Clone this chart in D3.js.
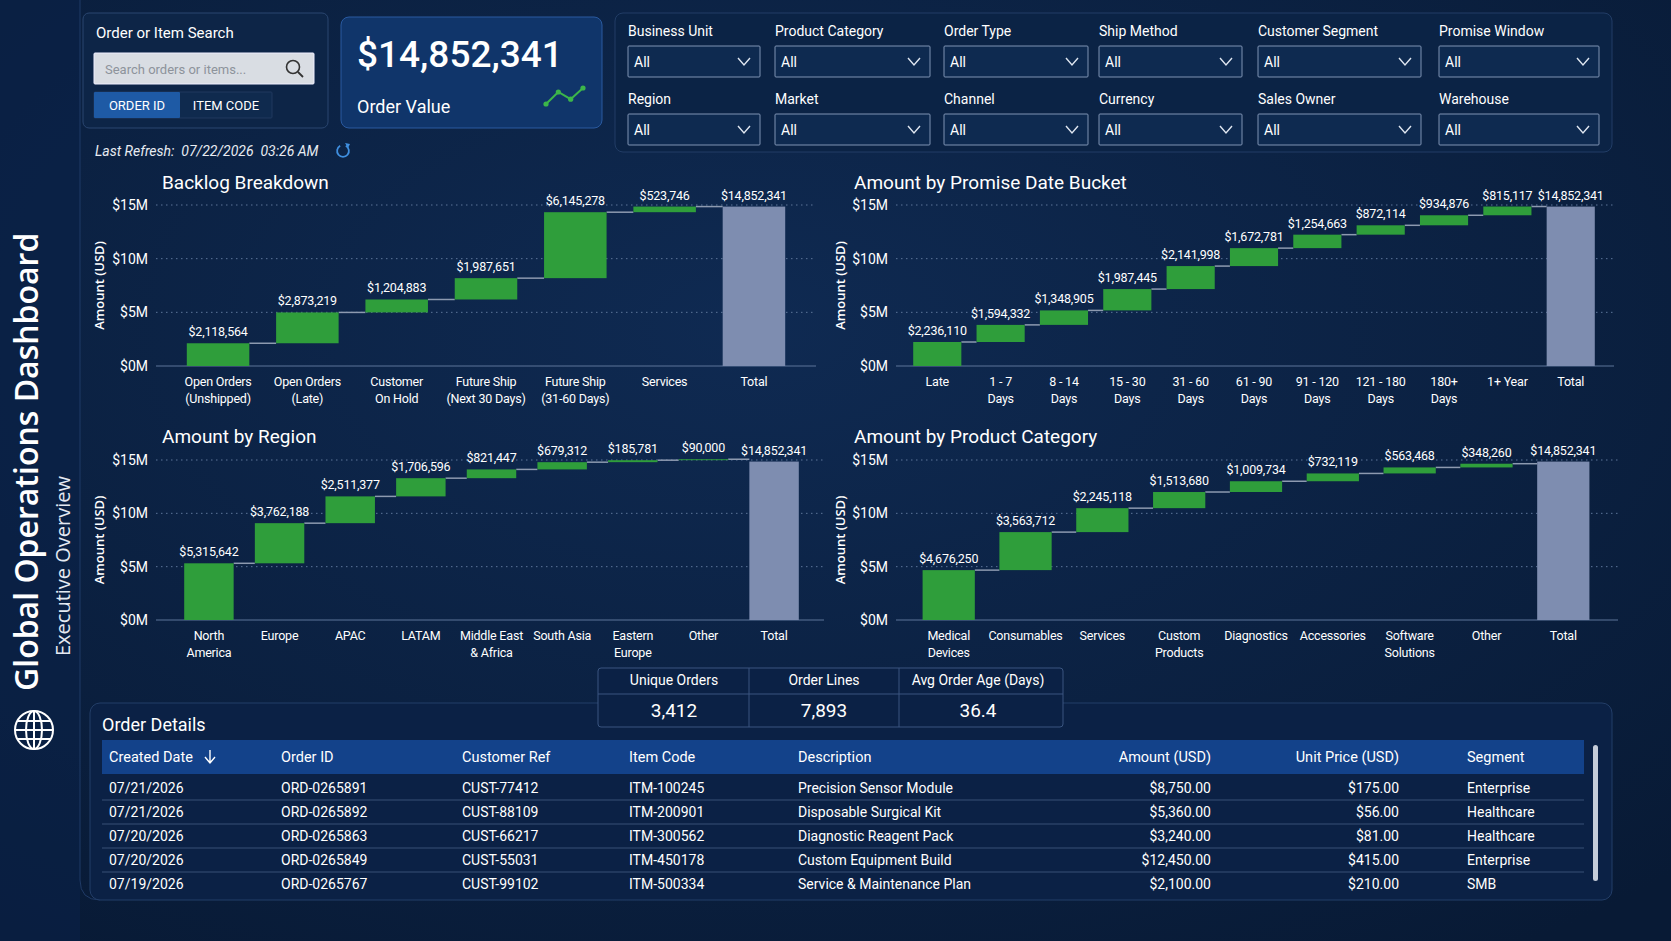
<!DOCTYPE html>
<html><head><meta charset="utf-8">
<script src="https://cdn.jsdelivr.net/npm/d3@7"></script>
<style>
body{margin:0;background:#0a1c38;overflow:hidden}
text{font-family:"Roboto","DejaVu Sans Condensed",sans-serif}
</style></head><body>
<script>
// data
var total = 14852341;
var backlogCats = ["Open Orders|(Unshipped)", "Open Orders|(Late)", "Customer|On Hold", "Future Ship|(Next 30 Days)", "Future Ship|(31-60 Days)", "Services"];
var backlogVals = [2118564, 2873219, 1204883, 1987651, 6145278, 523746];
var promiseCats = ["Late", "1 - 7|Days", "8 - 14|Days", "15 - 30|Days", "31 - 60|Days", "61 - 90|Days", "91 - 120|Days", "121 - 180|Days", "180+|Days", "1+ Year"];
var promiseVals = [2236110, 1594332, 1348905, 1987445, 2141998, 1672781, 1254663, 872114, 934876, 815117];
var regionCats = ["North|America", "Europe", "APAC", "LATAM", "Middle East|& Africa", "South Asia", "Eastern|Europe", "Other"];
var regionVals = [5315642, 3762188, 2511377, 1706596, 821447, 679312, 185781, 90000];
var productCats = ["Medical|Devices", "Consumables", "Services", "Custom|Products", "Diagnostics", "Accessories", "Software|Solutions", "Other"];
var productVals = [4676250, 3563712, 2245118, 1513680, 1009734, 732119, 563468, 348260];
var yTicks = [0, 5e6, 10e6, 15e6];

var filterRow1 = ["Business Unit", "Product Category", "Order Type", "Ship Method", "Customer Segment", "Promise Window"];
var filterRow2 = ["Region", "Market", "Channel", "Currency", "Sales Owner", "Warehouse"];

var kpiHeads = ["Unique Orders", "Order Lines", "Avg Order Age (Days)"];
var kpiVals = ["3,412", "7,893", "36.4"];

var tableHeads = ["Created Date", "Order ID", "Customer Ref", "Item Code", "Description", "Amount (USD)", "Unit Price (USD)", "Segment"];
var tableRows = [
  ["07/21/2026", "ORD-0265891", "CUST-77412", "ITM-100245", "Precision Sensor Module", "$8,750.00", "$175.00", "Enterprise"],
  ["07/21/2026", "ORD-0265892", "CUST-88109", "ITM-200901", "Disposable Surgical Kit", "$5,360.00", "$56.00", "Healthcare"],
  ["07/20/2026", "ORD-0265863", "CUST-66217", "ITM-300562", "Diagnostic Reagent Pack", "$3,240.00", "$81.00", "Healthcare"],
  ["07/20/2026", "ORD-0265849", "CUST-55031", "ITM-450178", "Custom Equipment Build", "$12,450.00", "$415.00", "Enterprise"],
  ["07/19/2026", "ORD-0265767", "CUST-99102", "ITM-500334", "Service & Maintenance Plan", "$2,100.00", "$210.00", "SMB"]
];

var W = 1671, H = 941;
var svg = d3.select("body").append("svg").attr("width", W).attr("height", H);
var defs = svg.append("defs");
var bg = defs.append("radialGradient").attr("id", "bg").attr("cx", "45%").attr("cy", "35%").attr("r", "80%");
bg.append("stop").attr("offset", "0%").attr("stop-color", "#0f2a52");
bg.append("stop").attr("offset", "100%").attr("stop-color", "#081a35");
svg.append("rect").attr("width", W).attr("height", H).attr("fill", "url(#bg)");

var fmt = d3.format("$,");

// sidebar
svg.append("rect").attr("width", 80).attr("height", H).attr("fill", "#0a2248").attr("opacity", 0.6);
svg.append("path").attr("d", "M80,0 V880 Q80,900 100,900").attr("fill", "none").attr("stroke", "#1f3a66");
svg.append("text").attr("transform", "translate(38,691) rotate(-90)").attr("fill", "#fff")
  .attr("font-size", 32).attr("font-weight", 600).style("font-family", "'Open Sans',sans-serif").text("Global Operations Dashboard");
svg.append("text").attr("transform", "translate(70,656) rotate(-90)").attr("fill", "#e4e9f2")
  .attr("font-size", 20).style("font-family", "'Open Sans',sans-serif").text("Executive Overview");
var globe = svg.append("g").attr("transform", "translate(34,730)").attr("fill", "none").attr("stroke", "#fff").attr("stroke-width", 2);
globe.append("circle").attr("r", 19);
globe.append("ellipse").attr("rx", 8).attr("ry", 19);
globe.append("line").attr("y1", -19).attr("y2", 19);
[-9, 0, 9].forEach(function (y) {
  var hw = Math.sqrt(19 * 19 - y * y);
  globe.append("line").attr("x1", -hw).attr("x2", hw).attr("y1", y).attr("y2", y);
});

function card(x, y, w, h, fill, stroke, r) {
  return svg.append("rect").attr("x", x).attr("y", y).attr("width", w).attr("height", h)
    .attr("rx", r || 6).attr("fill", fill).attr("stroke", stroke);
}

// search card
card(83, 13, 245, 115, "#0d2547", "#2a4670");
svg.append("text").attr("x", 96).attr("y", 38).attr("fill", "#fff").attr("font-size", 15).text("Order or Item Search");
card(94, 53, 220, 31, "#d9dde3", "#eef", 1);
svg.append("text").attr("x", 105).attr("y", 74).attr("fill", "#8d939b").attr("font-size", 13).text("Search orders or items...");
svg.append("circle").attr("cx", 293).attr("cy", 67).attr("r", 6.5).attr("fill", "none").attr("stroke", "#333").attr("stroke-width", 1.6);
svg.append("line").attr("x1", 298).attr("y1", 72).attr("x2", 303).attr("y2", 77).attr("stroke", "#333").attr("stroke-width", 1.8);
card(94, 92, 178, 26, "#0f2a4e", "#20385e", 1);
card(94, 92, 86, 26, "#1e5aa5", "none", 1);
svg.append("text").attr("x", 137).attr("y", 110).attr("text-anchor", "middle").attr("fill", "#fff").attr("font-size", 13).text("ORDER ID");
svg.append("text").attr("x", 226).attr("y", 110).attr("text-anchor", "middle").attr("fill", "#fff").attr("font-size", 13).text("ITEM CODE");

// KPI card
card(341, 17, 261, 111, "#10356a", "#2a5aa0", 8);
svg.append("text").attr("x", 357).attr("y", 67).attr("fill", "#fff").attr("font-size", 37).attr("font-weight", 500).text("$14,852,341");
svg.append("text").attr("x", 357).attr("y", 113).attr("fill", "#fff").attr("font-size", 18).text("Order Value");
var spark = [[0, 0], [1, -1.5], [2, -0.6], [3, -2]];
var sx = d3.scaleLinear().domain([0, 3]).range([546, 583]);
var sy = d3.scaleLinear().domain([0, -2]).range([104, 88]);
svg.append("path").attr("d", d3.line().x(d => sx(d[0])).y(d => sy(d[1]))(spark)).attr("fill", "none").attr("stroke", "#3cb64a").attr("stroke-width", 2);
svg.selectAll(".sp").data(spark).enter().append("circle").attr("cx", d => sx(d[0])).attr("cy", d => sy(d[1])).attr("r", 2.6).attr("fill", "#3cb64a");

svg.append("text").attr("x", 95).attr("y", 156).attr("fill", "#e8ecf2").attr("font-size", 14).attr("font-style", "italic")
  .attr("xml:space", "preserve").text("Last Refresh:  07/22/2026  03:26 AM");
var ref = svg.append("g").attr("transform", "translate(343,151)");
ref.append("path").attr("d", d3.arc()({ innerRadius: 5, outerRadius: 6.8, startAngle: 0.5, endAngle: 2 * Math.PI - 0.5 })).attr("fill", "#3f8fe0");
ref.append("path").attr("d", "M2,-8 l5,1 l-2,4 z").attr("fill", "#3f8fe0");

// filters
card(615, 13, 997, 139, "#0b2345", "#223d66", 8);
var fx = [628, 775, 944, 1099, 1258, 1439], fw = [132, 155, 144, 143, 163, 160];
[filterRow1, filterRow2].forEach(function (row, ri) {
  var ly = ri ? 104 : 36, by = ri ? 114 : 46;
  row.forEach(function (lab, i) {
    svg.append("text").attr("x", fx[i]).attr("y", ly).attr("fill", "#fff").attr("font-size", 14).text(lab);
    card(fx[i], by, fw[i], 31, "#0e2a50", "#7f93b3", 1);
    svg.append("text").attr("x", fx[i] + 6).attr("y", by + 21).attr("fill", "#fff").attr("font-size", 14).text("All");
    var ax = fx[i] + fw[i] - 16;
    svg.append("path").attr("d", "M" + (ax - 6) + "," + (by + 12) + " l6,7 l6,-7").attr("fill", "none").attr("stroke", "#dfe6f0").attr("stroke-width", 1.4);
  });
});

// waterfall charts
function waterfall(title, cats, vals, x0, x1, yTop, yBot, pad, titleX, titleY, axisX, labelX) {
  var rows = [], acc = 0;
  cats.forEach(function (c, i) {
    rows.push({ cat: c, start: acc, end: acc + vals[i], v: vals[i], tot: false });
    acc += vals[i];
  });
  rows.push({ cat: "Total", start: 0, end: total, v: total, tot: true });
  var x = d3.scaleBand().domain(rows.map(d => d.cat)).range([x0, x1]).padding(pad);
  var y = d3.scaleLinear().domain([0, 15e6]).range([yBot, yTop]);
  var g = svg.append("g");
  g.append("text").attr("x", titleX).attr("y", titleY).attr("fill", "#fff").attr("font-size", 19).text(title);
  g.append("text").attr("transform", "translate(" + labelX + "," + ((yTop + yBot) / 2) + ") rotate(-90)")
    .attr("text-anchor", "middle").attr("fill", "#fff").attr("font-size", 13).attr("font-weight", 600)
    .style("font-family", "'Open Sans',sans-serif").text("Amount (USD)");
  var ax = g.append("g").attr("transform", "translate(" + axisX + ",0)")
    .call(d3.axisLeft(y).tickValues(yTicks).tickFormat(d => "$" + d / 1e6 + "M").tickSize(0).tickPadding(0));
  ax.select(".domain").remove();
  ax.selectAll("text").attr("fill", "#fff").attr("font-size", 14).style("font-family", null);
  g.selectAll(".grid").data(yTicks.slice(1)).enter().append("line")
    .attr("x1", axisX + 8).attr("x2", x1 + 4).attr("y1", d => y(d)).attr("y2", d => y(d))
    .attr("stroke", "#5d7599").attr("stroke-dasharray", "1.5,3.5");
  g.append("line").attr("x1", axisX + 8).attr("x2", x1 + 4).attr("y1", yBot).attr("y2", yBot).attr("stroke", "#5d7599");
  // connectors
  rows.slice(0, -1).forEach(function (d, i) {
    var nx = rows[i + 1];
    g.append("line").attr("x1", x(d.cat) + x.bandwidth()).attr("x2", x(nx.cat))
      .attr("y1", y(d.end)).attr("y2", y(d.end)).attr("stroke", "#8d9ab0").attr("stroke-width", 1.5);
  });
  g.selectAll(".bar").data(rows).enter().append("rect")
    .attr("x", d => x(d.cat)).attr("width", x.bandwidth())
    .attr("y", d => y(d.end)).attr("height", d => y(d.start) - y(d.end))
    .attr("fill", d => d.tot ? "#7e8db0" : "#2f9e3b");
  g.selectAll(".val").data(rows).enter().append("text")
    .attr("x", d => x(d.cat) + x.bandwidth() / 2).attr("y", d => y(d.end) - 7)
    .attr("text-anchor", "middle").attr("fill", "#fff").attr("font-size", 12.5).attr("letter-spacing", -0.2).text(d => fmt(d.v));
  rows.forEach(function (d) {
    d.cat.split("|").forEach(function (line, li) {
      g.append("text").attr("x", x(d.cat) + x.bandwidth() / 2).attr("y", yBot + 20 + li * 17)
        .attr("text-anchor", "middle").attr("fill", "#fff").attr("font-size", 12.5).attr("letter-spacing", -0.2).text(line);
    });
  });
}
waterfall("Backlog Breakdown", backlogCats, backlogVals, 160, 812, 205, 366, 0.3, 162, 189, 148, 104);
waterfall("Amount by Promise Date Bucket", promiseCats, promiseVals, 898, 1610, 205, 366, 0.24, 854, 189, 888, 845);
waterfall("Amount by Region", regionCats, regionVals, 163, 820, 460, 620, 0.3, 162, 443, 148, 104);
waterfall("Amount by Product Category", productCats, productVals, 898, 1614, 460, 620, 0.32, 854, 443, 888, 845);

// order details panel
card(90, 703, 1522, 197, "#0b2145", "#233e68", 10);
svg.append("text").attr("x", 102).attr("y", 731).attr("fill", "#fff").attr("font-size", 18).text("Order Details");
svg.append("rect").attr("x", 102).attr("y", 740).attr("width", 1482).attr("height", 34).attr("fill", "#13428a");
var colX = [109, 281, 462, 629, 798, 1211, 1399, 1467];
var colAnchor = ["start", "start", "start", "start", "start", "end", "end", "start"];
tableHeads.forEach(function (h, i) {
  svg.append("text").attr("x", colX[i]).attr("y", 762).attr("text-anchor", colAnchor[i]).attr("fill", "#fff").attr("font-size", 14.5).text(h);
});
svg.append("path").attr("d", "M210,750 v12 M205,757 l5,6 l5,-6").attr("fill", "none").attr("stroke", "#fff").attr("stroke-width", 1.4);
tableRows.forEach(function (r, ri) {
  var ry = 793 + ri * 24;
  if (ri > 0) svg.append("line").attr("x1", 102).attr("x2", 1584).attr("y1", ry - 17).attr("y2", ry - 17).attr("stroke", "#2a4166").attr("stroke-width", 1.5);
  r.forEach(function (c, i) {
    svg.append("text").attr("x", colX[i]).attr("y", ry).attr("text-anchor", colAnchor[i]).attr("fill", "#fff").attr("font-size", 14).text(c);
  });
});
svg.append("rect").attr("x", 1593).attr("y", 745).attr("width", 5).attr("height", 136).attr("rx", 2.5).attr("fill", "#c5ccd8");

// KPI mini table
card(598, 668, 465, 59, "#0b2145", "#3a5580", 3);
svg.append("line").attr("x1", 598).attr("x2", 1063).attr("y1", 694).attr("y2", 694).attr("stroke", "#3a5580");
[749, 899].forEach(function (xv) {
  svg.append("line").attr("x1", xv).attr("x2", xv).attr("y1", 668).attr("y2", 727).attr("stroke", "#3a5580");
});
var kx = [674, 824, 978];
kpiHeads.forEach(function (h, i) {
  svg.append("text").attr("x", kx[i]).attr("y", 685).attr("text-anchor", "middle").attr("fill", "#fff").attr("font-size", 14).text(h);
  svg.append("text").attr("x", kx[i]).attr("y", 717).attr("text-anchor", "middle").attr("fill", "#fff").attr("font-size", 19).text(kpiVals[i]);
});
</script>
</body></html>
